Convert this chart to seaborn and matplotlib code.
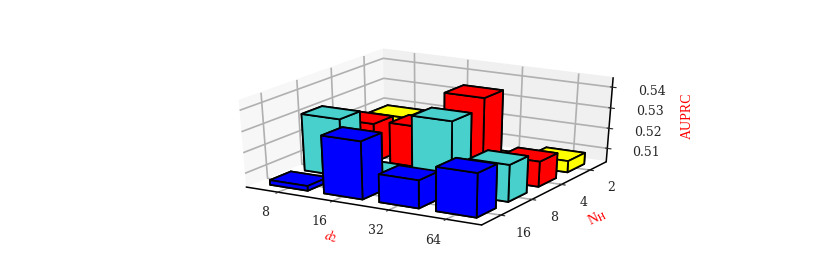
import numpy as np
import pandas as pd
import matplotlib
matplotlib.use("Agg")
import matplotlib.pyplot as plt
import seaborn as sns

# -----------------------------
# Data
# -----------------------------
d2_labels = ["8", "16", "32", "64"]
nh_labels = ["16", "8", "4", "2"]
bar_colors = ["blue", "mediumturquoise", "red", "yellow"]

auprc_16 = [0.5055, 0.5310, 0.5167, 0.5243]
auprc_8 = [0.5310, 0.5077, 0.5375, 0.5210]
auprc_4 = [0.5223, 0.5240, 0.5420, 0.5155]
auprc_2 = [0.5190, 0.5088, 0.5040, 0.5088]

z_ticks = [0.51, 0.52, 0.53, 0.54]

# -----------------------------
# Plot Settings
# -----------------------------
sns.set_style("white")
plt.rcParams["font.family"] = ["DejaVu Serif"]
plt.rcParams["mathtext.fontset"] = "stix"
palette = sns.color_palette(bar_colors)

df = pd.DataFrame({"d2": list(range(4)) * 4,
                   "nh": np.repeat(range(4), 4),
                   "auprc": auprc_16 + auprc_8 + auprc_4 + auprc_2})

fig = plt.figure(figsize=(8.3, 2.73), dpi=100)
ax = fig.add_subplot(111, projection="3d")
# stretch the 3d box to fill the wide axes
ax.apply_aspect = lambda position=None: None
ax.set_position([0.264, 0.112, 0.494, 0.785])
ax.set_box_aspect((4, 4, 2.75))

z_low = 0.5032
bar_w = 0.70
bar_d = 0.60
ax.bar3d(df["d2"] - bar_w / 2, df["nh"] - bar_d / 2, z_low,
         bar_w, bar_d, df["auprc"] - z_low,
         color=[palette[i] for i in df["nh"]],
         edgecolor="black", linewidth=1.3, shade=False)

ax.view_init(elev=28, azim=-60)
ax.set_xlim(-0.6, 3.6)
ax.set_ylim(-0.6, 3.6)
ax.set_zlim(z_low, 0.5445)

ax.set_xticks(range(4))
ax.set_xticklabels(d2_labels, fontsize=9)
ax.set_yticks(range(4))
ax.set_yticklabels(nh_labels, fontsize=9)
ax.set_zticks(z_ticks)
ax.set_zticklabels(["%.2f" % v for v in z_ticks], fontsize=9)
ax.tick_params(axis="x", pad=3)
ax.tick_params(axis="y", pad=3)
ax.tick_params(axis="z", pad=5)

ax.set_xlabel("$d_2$", color="red", fontsize=10, labelpad=3)
ax.set_ylabel(r"N$_{\mathrm{H}}$", color="red", fontsize=10, labelpad=4,
              family="Liberation Serif")
ax.zaxis.set_rotate_label(False)
ax.set_zlabel("AUPRC", color="red", fontsize=10, labelpad=5, rotation=90,
              family="Liberation Serif")

ax.xaxis.set_pane_color((0.97, 0.97, 0.97, 1))
ax.yaxis.set_pane_color((0.94, 0.94, 0.94, 1))
ax.zaxis.set_pane_color((1, 1, 1, 1))
for axis in [ax.xaxis, ax.yaxis, ax.zaxis]:
    axis._axinfo["grid"].update(color="#b0b0b0", linewidth=1.2)
    axis.line.set_color("black")
    axis.line.set_linewidth(1.1)

fig.savefig("out.png", dpi=100)
